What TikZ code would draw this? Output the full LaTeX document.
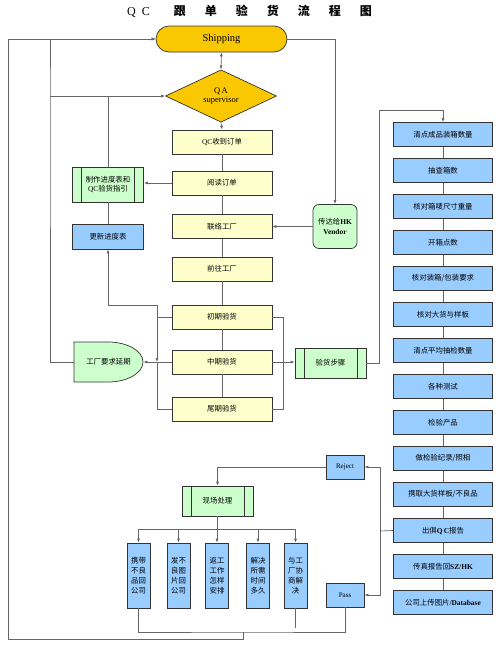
\documentclass[tikz,border=0pt]{standalone}
\usepackage{fontspec}
\setmainfont{Liberation Serif}
\newfontfamily\zhfont{Noto Sans CJK SC}
\usepackage{tikz}
\usetikzlibrary{arrows.meta, shapes.geometric, shapes.misc}
\definecolor{qcgold}{RGB}{250,200,0}
\definecolor{qcyellow}{RGB}{255,255,204}
\definecolor{qcgreen}{RGB}{204,255,204}
\definecolor{qcblue}{RGB}{153,204,255}
\tikzset{
  box/.style={draw=black!80, line width=0.7pt, inner sep=1pt, align=center,
    font=\zhfont\fontsize{7.4}{9.5}\selectfont},
  ybox/.style={box, fill=qcyellow, minimum width=100pt, minimum height=24pt},
  bbox/.style={box, fill=qcblue, minimum width=99pt, minimum height=24pt},
  vbox/.style={box, fill=qcblue, minimum width=23pt, minimum height=65pt,
    font=\zhfont\fontsize{7.4}{10}\selectfont},
  sbox/.style={box, fill=qcblue, minimum width=38pt, minimum height=24pt,
    font=\rmfamily\fontsize{7}{8}\selectfont},
  gproc/.style={box, fill=qcgreen, minimum width=71pt, minimum height=30pt,
    path picture={\draw[black!80, line width=0.7pt]
      ([xshift=9pt]path picture bounding box.north west) -- ([xshift=9pt]path picture bounding box.south west)
      ([xshift=-9pt]path picture bounding box.north east) -- ([xshift=-9pt]path picture bounding box.south east);}},
  shipbox/.style={box, rounded rectangle, fill=qcgold, minimum width=133pt, minimum height=26pt,
    font=\rmfamily\fontsize{10.5}{12}\selectfont},
  qabox/.style={box, diamond, fill=qcgold, minimum width=111pt, minimum height=49pt, inner sep=0pt,
    font=\rmfamily\fontsize{8.5}{9.5}\selectfont},
  vendorbox/.style={box, fill=qcgreen, rounded corners=6pt, minimum width=44pt, minimum height=44pt},
  dshape/.style={draw=black!80, line width=0.7pt, fill=qcgreen},
  conn/.style={draw=black!60, line width=0.7pt},
  arr/.style={conn, -{Latex[length=4pt, width=3pt]}},
}

\begin{document}
\begin{tikzpicture}[x=1pt, y=-1pt]
  \useasboundingbox (0,0) rectangle (500,653);
  \node[font=\zhfont\bfseries\fontsize{12}{14}\selectfont] (title) at (249.5,11)
    {{\rmfamily\mdseries Q\hspace{6pt}C}\hspace{24pt}跟\hspace{19pt}单\hspace{19pt}验\hspace{19pt}货\hspace{19pt}流\hspace{19pt}程\hspace{19pt}图};

  \node[shipbox] (ship) at (221.5,39) {Shipping};
  \node[qabox] (qa) at (221,96) {Q\,A\\supervisor};
  \node[ybox] (recv) at (222,142) {{\rmfamily QC}收到订单};
  \node[ybox] (read) at (222,183) {阅读订单};
  \node[ybox] (contact) at (222,226.5) {联络工厂};
  \node[ybox] (visit) at (222,269) {前往工厂};
  \node[ybox] (early) at (222,317) {初期验货};
  \node[ybox] (mid) at (222,362) {中期验货};
  \node[ybox] (late) at (222,409) {尾期验货};

  \node[gproc, minimum height=35pt] (plan) at (108,184.5) {制作进度表和\\{\rmfamily QC}验货指引};
  \node[box, fill=qcblue, minimum width=71pt, minimum height=25pt] (update) at (108,236.5) {更新进度表};
  \draw[dshape] (74,342) -- (108,342) arc[start angle=-90, end angle=90, x radius=35, y radius=20] -- (74,382) -- cycle;
  \node[box, draw=none, minimum width=69pt, minimum height=40pt] (delay) at (108.5,362) {工厂要求延期};

  \node[vendorbox] (vendor) at (335,226.5) {传达给{\rmfamily\bfseries HK}\\{\rmfamily\bfseries Vendor}};
  \node[gproc] (steps) at (330.5,363) {验货步骤};

  \foreach \t [count=\i] in {清点成品装箱数量, 抽查箱数, 核对箱唛尺寸重量, 开箱点数,
      核对装箱/包装要求, 核对大货与样板, 清点平均抽检数量, 各种测试, 检验产品,
      做检验纪录/照相, 携取大货样板/不良品, 出俱{\rmfamily\bfseries Q\,C}报告,
      传真报告回{\rmfamily\bfseries SZ/HK}, 公司上传图片{\rmfamily\bfseries /Database}}
    \node[bbox] (r\i) at (443,{134.5+36*(\i-1)}) {\t};
  \foreach \i [evaluate=\i as \j using int(\i+1)] in {1,...,13}
    \draw[conn] (r\i.south) -- (r\j.north);

  \node[sbox] (reject) at (345,467) {Reject};
  \node[sbox] (pass) at (345,595) {Pass};
  \node[gproc] (onsite) at (217.5,501) {现场处理};
  \foreach \x/\n/\t in {138.5/carry/{携带\\不良\\品回\\公司}, 178.5/photo/{发不\\良图\\片回\\公司},
      217/rework/{返工\\工作\\怎样\\安排}, 258/time/{解决\\所需\\时间\\多久}, 295.5/nego/{与工\\厂协\\商解\\决}}
    \node[vbox] (\n) at (\x,575.5) {\t};

  \coordinate (lbus) at (50,96);
  \coordinate (rbus) at (379,110);
  \coordinate (rj) at (380,531);
  \coordinate (ml) at (157,362);
  \coordinate (mu) at (157,305);
  \coordinate (mr) at (283,362);
  \coordinate (fork) at (217.5,529);
  \coordinate (bot) at (243,632);
  \coordinate (lowleft) at (8,639);
  \coordinate (stub) at (295.5,628);

  \draw[conn, {Latex[length=4pt, width=3pt]}-{Latex[length=4pt, width=3pt]}] (ship.south) -- (qa.north);
  \draw[arr] (qa.south) -- (recv.north);
  \foreach \a/\b in {recv/read, read/contact, contact/visit, visit/early, early/mid, mid/late}
    \draw[conn] (\a.south) -- (\b.north);
  \draw[arr] (read.west) -- (read.west -| plan.east);
  \draw[conn] (plan.south) -- (update.north);
  \draw[arr] (ship.east) -| (vendor.north);
  \draw[arr] (vendor.west) -- (contact.east);

  \draw[arr] (delay.west) -| (lbus) |- (ship.west);
  \draw[arr] (lbus) -- (qa.west);
  \draw[conn] (plan.north) -- (plan.north |- lbus);

  \draw[arr] (early.west) -| (ml);
  \draw[conn] (late.west) -| (ml);
  \draw[arr] (early.west) -| (mu) -| (update.south);
  \draw[arr] (mid.west) -- (delay.east);

  \draw[conn] (early.east) -| (mr);
  \draw[conn] (late.east) -| (mr);
  \draw[arr] (mid.east) -- (mid.east -| steps.west);
  \draw[arr] (steps.east) -| (rbus) -| (r1.north);

  \draw[conn] (r12.west) -- (rj);
  \draw[arr] (rj) |- (reject.east);
  \draw[arr] (rj) |- (pass.east);
  \draw[arr] (reject.west) -| (onsite.north);
  \draw[conn] (onsite.south) -- (fork);
  \foreach \n in {carry, photo, rework, time, nego}
    \draw[arr] (fork) -| (\n.north);
  \draw[conn] (nego.south) -- (stub);
  \draw[conn] (pass.south) |- (bot) -| (carry.south);
  \draw[arr] (bot) |- (lowleft) |- (ship.west);
\end{tikzpicture}
\end{document}
